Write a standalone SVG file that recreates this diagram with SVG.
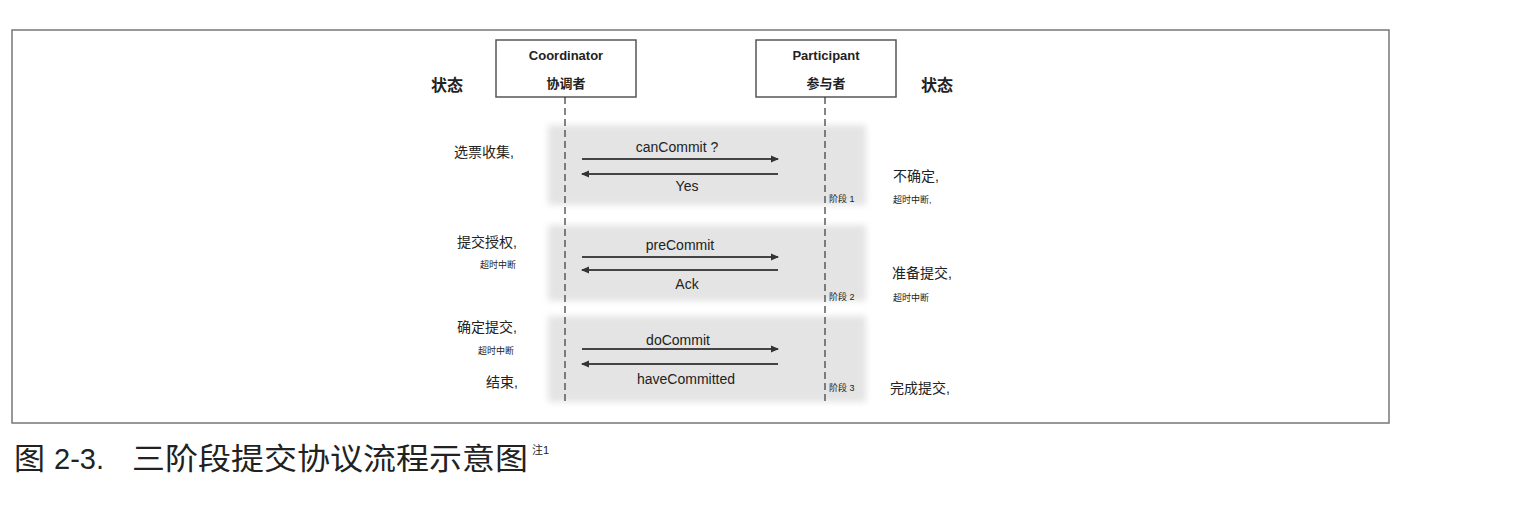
<svg xmlns="http://www.w3.org/2000/svg" width="1522" height="506" viewBox="0 0 1522 506">
<defs>
<marker id="ah" markerWidth="8" markerHeight="8" refX="7" refY="4" orient="auto" markerUnits="userSpaceOnUse">
<path d="M0,0.5 L8,4 L0,7.5 z" fill="#333"/>
</marker>
<filter id="blur"><feGaussianBlur stdDeviation="3"/></filter>
</defs>
<style>
text{font-family:"Liberation Sans","Noto Sans CJK SC",sans-serif;fill:#222}
.box{fill:#fff;stroke:#555;stroke-width:1.5}
.life{stroke:#444;stroke-width:1.3;stroke-dasharray:7,4}
.msg{stroke:#444;stroke-width:1.8;fill:none}
.lbl{font-size:14px}
.sm{font-size:9px}
.hd{font-size:16px;font-weight:bold}
.tt{font-size:13px;font-weight:bold}
.shade{fill:#e4e4e4;filter:url(#blur)}
.cap{font-size:30px}
</style>
<rect x="0" y="0" width="1522" height="506" fill="#fff"/>
<rect x="12" y="30" width="1377" height="393" fill="none" stroke="#777" stroke-width="1.5"/>
<g id="shading">
<rect class="shade" x="548" y="125" width="318" height="80"/>
<rect class="shade" x="548" y="225" width="318" height="76"/>
<rect class="shade" x="548" y="316" width="318" height="86"/>
</g>
<g id="coordinator">
<rect class="box" x="496" y="40" width="140" height="57"/>
<text class="tt" x="566" y="60" text-anchor="middle">Coordinator</text>
<text class="tt" x="566" y="88" text-anchor="middle" font-size="11">协调者</text>
</g>
<g id="participant">
<rect class="box" x="756" y="40" width="140" height="57"/>
<text class="tt" x="826" y="60" text-anchor="middle">Participant</text>
<text class="tt" x="826" y="88" text-anchor="middle" font-size="11">参与者</text>
</g>
<g id="connectors">
<line class="life" x1="565" y1="97" x2="565" y2="403"/>
<line class="life" x1="825" y1="97" x2="825" y2="403"/>
<line class="msg" x1="582" y1="159" x2="778" y2="159" marker-end="url(#ah)"/>
<line class="msg" x1="778" y1="174" x2="582" y2="174" marker-end="url(#ah)"/>
<line class="msg" x1="582" y1="257" x2="778" y2="257" marker-end="url(#ah)"/>
<line class="msg" x1="778" y1="270" x2="582" y2="270" marker-end="url(#ah)"/>
<line class="msg" x1="582" y1="349" x2="778" y2="349" marker-end="url(#ah)"/>
<line class="msg" x1="778" y1="364" x2="582" y2="364" marker-end="url(#ah)"/>
</g>
<g id="messages">
<text class="lbl" x="677" y="152" text-anchor="middle">canCommit ?</text>
<text class="lbl" x="687" y="191" text-anchor="middle">Yes</text>
<text class="lbl" x="680" y="250" text-anchor="middle">preCommit</text>
<text class="lbl" x="687" y="289" text-anchor="middle">Ack</text>
<text class="lbl" x="678" y="345" text-anchor="middle">doCommit</text>
<text class="lbl" x="686" y="384" text-anchor="middle">haveCommitted</text>
</g>
<g id="left-states">
<text class="hd" x="431" y="91">状态</text>
<text class="lbl" x="454" y="157">选票收集,</text>
<text class="lbl" x="457" y="247">提交授权,</text>
<text class="sm" x="480" y="268">超时中断</text>
<text class="lbl" x="457" y="332">确定提交,</text>
<text class="sm" x="478" y="354">超时中断</text>
<text class="lbl" x="486" y="387">结束,</text>
</g>
<g id="right-states">
<text class="hd" x="921" y="91">状态</text>
<text class="lbl" x="893" y="181">不确定,</text>
<text class="sm" x="893" y="203">超时中断,</text>
<text class="sm" x="829" y="202">阶段 1</text>
<text class="lbl" x="892" y="278">准备提交,</text>
<text class="sm" x="893" y="301">超时中断</text>
<text class="sm" x="829" y="300">阶段 2</text>
<text class="lbl" x="890" y="393">完成提交,</text>
<text class="sm" x="829" y="391">阶段 3</text>
</g>
<g id="caption">
<text class="cap" x="14" y="469" textLength="31" lengthAdjust="spacingAndGlyphs">图</text>
<text class="cap" x="54" y="469" textLength="50" lengthAdjust="spacingAndGlyphs">2-3.</text>
<text class="cap" x="132" y="469" textLength="396" lengthAdjust="spacingAndGlyphs">三阶段提交协议流程示意图</text>
<text x="532" y="454" font-size="11">注1</text>
</g>
</svg>
